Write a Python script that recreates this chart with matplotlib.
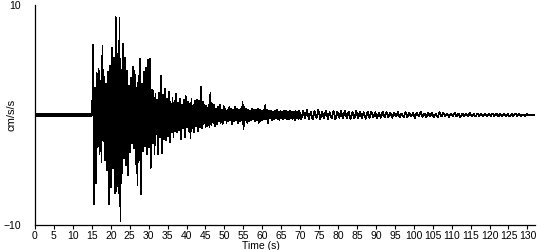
import numpy as np
import matplotlib.pyplot as plt

plt.rcParams['font.family'] = ['Liberation Sans', 'DejaVu Sans']

# quiet part before the arrival
quiet_t = [0.0, 15.1]
quiet_v = [0.0, 0.0]

# strong motion, one value every 0.25 s from 15.3 s (cm/s/s)
strong_dt = 0.25
strong_start = 15.3
strong = [
    6.4, -8.1, 2.5, -6.2, 3.8, -2.9, 4.2, -3.6,
    3.1, -4.3, 6.3, -2.4, 3.5, -4.1, 2.8, -5.0,
    3.9, -8.1, 4.5, -6.6, 6.1, -4.8, 5.2, -7.1,
    8.9, -6.9, 5.6, -7.1, 8.8, -9.7, 4.1, -5.3,
    6.5, -3.9, 5.2, -4.6, 4.0, -5.5, 2.7, -3.4,
    3.4, -2.6, 4.4, -3.0, 4.0, -4.5, 2.5, -6.4,
    3.6, -4.1, 5.1, -7.2, 2.8, -3.3, 3.9, -2.8,
    4.3, -3.6, 5.0, -2.9, 5.1, -4.8, 2.3, -2.6,
    2.2, -3.6, 1.9, -1.7, 1.4, -3.6, 2.0, -2.0,
    3.6, -3.5, 1.8, -2.2, 2.4, -2.3, 1.5, -1.9,
    2.1, -2.5, 1.2, -1.6, 1.6, -2.0, 1.3, -1.5,
    1.9, -1.6, 1.1, -1.4, 1.5, -2.2, 0.9, -1.2,
    1.4, -2.0, 1.7, -1.1, 1.2, -1.5, 1.0, -2.1,
    1.5, -1.2, 0.9, -1.6, 1.3, -1.0, 1.4, -1.5,
    1.3, -1.1, 2.6, -1.2, 1.2, -0.8, 0.9, -1.1,
    0.8, -1.0, 0.9, -1.1, 2.0, -0.9, 1.0, -0.7,
    0.9, -1.0, 0.6, -0.8, 0.7, -0.6, 0.9, -0.7,
    0.5, -0.8, 0.8, -0.5, 0.6, -0.7, 0.5, -0.6,
    0.7, -0.5, 0.6, -0.8, 0.5, -0.6, 0.7, -0.5,
    0.6, -0.7, 0.5, -0.6, 0.6, -0.5, 1.2, -1.3,
    0.7, -0.5, 0.6, -0.7, 0.5, -0.6, 0.4, -0.5,
    0.6, -0.4, 0.5, -0.6, 0.5, -0.5, 0.6, -0.7,
    0.5, -0.6, 0.4, -0.5, 0.5, -0.4, 0.9, -0.4,
    0.5, -0.7, 0.4, -0.3, 0.4, -0.5, 0.3, -0.4,
    0.4, -0.3, 0.5, -0.4, 0.3, -0.5, 0.4, -0.3,
    0.3, -0.4, 0.4, -0.3, 0.35, -0.4, 0.3, -0.35,
    0.4, -0.3, 0.3, -0.35, 0.3, -0.5, 0.35, -0.3,
    0.3, -0.35, 0.4, -0.3,
]

# coda, one value every 0.5 s from 70.3 s (cm/s/s)
coda_dt = 0.5
coda_start = 70.3
coda = [
    -0.4, 0.4, -0.3, 0.45, -0.35, 0.3, -0.4, 0.35, -0.3, 0.45,
    -0.35, 0.3, -0.3, 0.4, -0.35, 0.25, -0.3, 0.35, -0.4, 0.3,
    -0.25, 0.35, -0.3, 0.4, -0.3, 0.3, -0.35, 0.25, -0.3, 0.35,
    -0.25, 0.3, -0.3, 0.25, -0.35, 0.3, -0.25, 0.3, -0.2, 0.25,
    -0.3, 0.2, -0.25, 0.3, -0.2, 0.25, -0.2, 0.2, -0.25, 0.2,
    -0.15, 0.25, -0.2, 0.15, -0.2, 0.25, -0.2, 0.2, -0.15, 0.2,
    -0.25, 0.2, -0.15, 0.3, -0.2, 0.15, -0.2, 0.2, -0.15, 0.2,
    -0.2, 0.15, -0.2, 0.25, -0.15, 0.2, -0.15, 0.15, -0.2, 0.15,
    -0.15, 0.2, -0.15, 0.15, -0.2, 0.15, -0.1, 0.15, -0.15, 0.2,
    -0.15, 0.1, -0.15, 0.15, -0.1, 0.15, -0.15, 0.1, -0.15, 0.15,
    -0.1, 0.15, -0.1, 0.15, -0.15, 0.1, -0.1, 0.15, -0.1, 0.1,
    -0.15, 0.1, -0.1, 0.15, -0.1, 0.1, -0.1, 0.05, -0.1, 0.1,
    -0.05, 0.05, -0.05, 0.0,
]
x_ticks = list(range(0, 131, 5))
y_ticks = [-10, 10]

t = np.concatenate([quiet_t,
                    strong_start + strong_dt * np.arange(len(strong)),
                    coda_start + coda_dt * np.arange(len(coda))])
v = np.concatenate([quiet_v, strong, coda])

fig = plt.figure(figsize=(5.5, 2.5), dpi=100)
ax = fig.add_axes([35 / 550, 25 / 250, 500 / 550, 220 / 250])

ax.plot(t, v, color='black', lw=0.5, antialiased=False)
ax.plot(quiet_t, quiet_v, color='black', lw=1.5, solid_capstyle='butt', antialiased=False)

ax.set_xlim(0, 132)
ax.set_ylim(-10, 10)
ax.set_xticks(x_ticks)
ax.set_yticks(y_ticks)
ax.tick_params(axis='x', direction='out', length=3, width=0.8, pad=1, labelsize=7.5)
ax.tick_params(axis='y', length=0, pad=10, labelsize=7.5)

for s in ['top', 'right']:
    ax.spines[s].set_visible(False)
for s in ['left', 'bottom']:
    ax.spines[s].set_linewidth(0.9)

ax.set_xlabel('Time (s)', fontsize=7.5, labelpad=0)
ax.xaxis.set_label_coords(0.452, -0.072)
ax.set_ylabel('cm/s/s', fontsize=8)
ax.yaxis.set_label_coords(-0.037, 0.5)

fig.savefig('out.png', dpi=100)
